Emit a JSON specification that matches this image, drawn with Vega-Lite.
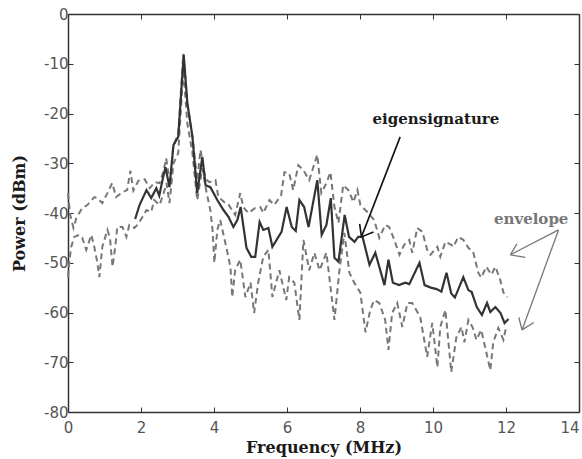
{
  "$schema": "https://vega.github.io/schema/vega-lite/v6.json",
  "width": 511,
  "height": 398,
  "autosize": {"type": "none"},
  "padding": {"left": 68, "top": 14, "right": 3, "bottom": 47},
  "background": "white",
  "config": {
    "view": {"stroke": null},
    "axis": {
      "domainColor": "#333333",
      "domainWidth": 1.5,
      "tickColor": "#333333",
      "tickWidth": 1,
      "tickSize": -5,
      "grid": false,
      "labelFont": "DejaVu Sans",
      "labelFontSize": 15,
      "labelColor": "#555555",
      "titleFont": "DejaVu Serif",
      "titleFontWeight": "bold",
      "titleFontSize": 16,
      "titleColor": "#1a1a1a"
    }
  },
  "datasets": {
    "series": [
      {"s":"eig","f":1.84,"p":-41.2},{"s":"eig","f":1.96,"p":-38.4},{"s":"eig","f":2.15,"p":-35.4},{"s":"eig","f":2.28,"p":-37},{"s":"eig","f":2.42,"p":-35},{"s":"eig","f":2.5,"p":-36.5},{"s":"eig","f":2.6,"p":-33},{"s":"eig","f":2.67,"p":-30.8},{"s":"eig","f":2.78,"p":-34.8},{"s":"eig","f":2.89,"p":-26.3},{"s":"eig","f":3.02,"p":-24.7},{"s":"eig","f":3.17,"p":-8.2},{"s":"eig","f":3.27,"p":-17.9},{"s":"eig","f":3.41,"p":-24.7},{"s":"eig","f":3.54,"p":-36},{"s":"eig","f":3.68,"p":-28.7},{"s":"eig","f":3.77,"p":-34.4},{"s":"eig","f":3.9,"p":-34.8},{"s":"eig","f":4.09,"p":-37.4},{"s":"eig","f":4.26,"p":-39.4},{"s":"eig","f":4.4,"p":-40.8},{"s":"eig","f":4.53,"p":-42.8},{"s":"eig","f":4.64,"p":-41.4},{"s":"eig","f":4.73,"p":-38.8},{"s":"eig","f":4.89,"p":-47},{"s":"eig","f":5.02,"p":-48.8},{"s":"eig","f":5.13,"p":-48.8},{"s":"eig","f":5.25,"p":-41.8},{"s":"eig","f":5.35,"p":-43.4},{"s":"eig","f":5.49,"p":-43},{"s":"eig","f":5.6,"p":-46.8},{"s":"eig","f":5.85,"p":-43.8},{"s":"eig","f":5.99,"p":-38.8},{"s":"eig","f":6.13,"p":-42.8},{"s":"eig","f":6.24,"p":-43.6},{"s":"eig","f":6.34,"p":-37.4},{"s":"eig","f":6.47,"p":-38.8},{"s":"eig","f":6.59,"p":-42.8},{"s":"eig","f":6.83,"p":-33.4},{"s":"eig","f":6.95,"p":-44.4},{"s":"eig","f":7.08,"p":-42.4},{"s":"eig","f":7.2,"p":-37},{"s":"eig","f":7.3,"p":-49},{"s":"eig","f":7.41,"p":-49.8},{"s":"eig","f":7.58,"p":-40.4},{"s":"eig","f":7.7,"p":-44.8},{"s":"eig","f":7.85,"p":-45.8},{"s":"eig","f":7.95,"p":-44.8},{"s":"eig","f":8.07,"p":-44.8},{"s":"eig","f":8.26,"p":-50.4},{"s":"eig","f":8.42,"p":-48},{"s":"eig","f":8.67,"p":-54.5},{"s":"eig","f":8.78,"p":-49.4},{"s":"eig","f":8.9,"p":-54},{"s":"eig","f":9.07,"p":-54.5},{"s":"eig","f":9.24,"p":-54},{"s":"eig","f":9.35,"p":-54.3},{"s":"eig","f":9.63,"p":-50},{"s":"eig","f":9.77,"p":-54.5},{"s":"eig","f":9.94,"p":-55},{"s":"eig","f":10.1,"p":-55.3},{"s":"eig","f":10.23,"p":-55.8},{"s":"eig","f":10.37,"p":-52},{"s":"eig","f":10.5,"p":-56.2},{"s":"eig","f":10.6,"p":-57},{"s":"eig","f":10.83,"p":-52.9},{"s":"eig","f":10.97,"p":-55.5},{"s":"eig","f":11.06,"p":-55.9},{"s":"eig","f":11.2,"p":-58.9},{"s":"eig","f":11.34,"p":-60.5},{"s":"eig","f":11.48,"p":-58.1},{"s":"eig","f":11.57,"p":-59.9},{"s":"eig","f":11.71,"p":-58.9},{"s":"eig","f":11.85,"p":-60.1},{"s":"eig","f":11.96,"p":-62.1},{"s":"eig","f":12.07,"p":-61.3},
      {"s":"upper","f":0,"p":-36},{"s":"upper","f":0.06,"p":-40.4},{"s":"upper","f":0.15,"p":-43},{"s":"upper","f":0.23,"p":-41},{"s":"upper","f":0.39,"p":-39},{"s":"upper","f":0.53,"p":-38.4},{"s":"upper","f":0.72,"p":-36.8},{"s":"upper","f":0.8,"p":-37},{"s":"upper","f":0.94,"p":-38},{"s":"upper","f":1.08,"p":-36},{"s":"upper","f":1.21,"p":-34},{"s":"upper","f":1.32,"p":-36.8},{"s":"upper","f":1.49,"p":-35.8},{"s":"upper","f":1.62,"p":-35.4},{"s":"upper","f":1.71,"p":-31.5},{"s":"upper","f":1.79,"p":-35.5},{"s":"upper","f":1.93,"p":-33.5},{"s":"upper","f":2.1,"p":-33.2},{"s":"upper","f":2.24,"p":-35},{"s":"upper","f":2.38,"p":-33.8},{"s":"upper","f":2.51,"p":-34},{"s":"upper","f":2.62,"p":-31.5},{"s":"upper","f":2.69,"p":-29},{"s":"upper","f":2.8,"p":-34.5},{"s":"upper","f":2.88,"p":-26.7},{"s":"upper","f":3.02,"p":-24},{"s":"upper","f":3.16,"p":-8},{"s":"upper","f":3.27,"p":-18},{"s":"upper","f":3.41,"p":-24.7},{"s":"upper","f":3.54,"p":-33.5},{"s":"upper","f":3.63,"p":-27.3},{"s":"upper","f":3.76,"p":-33},{"s":"upper","f":3.87,"p":-33.8},{"s":"upper","f":4.04,"p":-33.4},{"s":"upper","f":4.12,"p":-36.8},{"s":"upper","f":4.31,"p":-38},{"s":"upper","f":4.39,"p":-38.2},{"s":"upper","f":4.58,"p":-40.4},{"s":"upper","f":4.72,"p":-36},{"s":"upper","f":4.8,"p":-38.8},{"s":"upper","f":4.94,"p":-40},{"s":"upper","f":5.13,"p":-39},{"s":"upper","f":5.27,"p":-38.8},{"s":"upper","f":5.35,"p":-40},{"s":"upper","f":5.52,"p":-37.4},{"s":"upper","f":5.65,"p":-38.4},{"s":"upper","f":5.84,"p":-36.4},{"s":"upper","f":5.93,"p":-31.8},{"s":"upper","f":6.06,"p":-32},{"s":"upper","f":6.17,"p":-35.4},{"s":"upper","f":6.31,"p":-30.4},{"s":"upper","f":6.45,"p":-31.4},{"s":"upper","f":6.61,"p":-33.4},{"s":"upper","f":6.72,"p":-30.8},{"s":"upper","f":6.83,"p":-28.3},{"s":"upper","f":6.94,"p":-36},{"s":"upper","f":7.08,"p":-34},{"s":"upper","f":7.19,"p":-31.8},{"s":"upper","f":7.3,"p":-38.8},{"s":"upper","f":7.41,"p":-42},{"s":"upper","f":7.54,"p":-34.4},{"s":"upper","f":7.68,"p":-35.4},{"s":"upper","f":7.82,"p":-37.8},{"s":"upper","f":7.93,"p":-35.4},{"s":"upper","f":8.01,"p":-38.4},{"s":"upper","f":8.2,"p":-39.8},{"s":"upper","f":8.39,"p":-41.4},{"s":"upper","f":8.53,"p":-45},{"s":"upper","f":8.69,"p":-42.4},{"s":"upper","f":8.8,"p":-42.8},{"s":"upper","f":8.94,"p":-45.4},{"s":"upper","f":9.08,"p":-48.4},{"s":"upper","f":9.21,"p":-46.4},{"s":"upper","f":9.35,"p":-45.4},{"s":"upper","f":9.43,"p":-48},{"s":"upper","f":9.57,"p":-43},{"s":"upper","f":9.71,"p":-43.8},{"s":"upper","f":9.84,"p":-47.4},{"s":"upper","f":9.93,"p":-48.4},{"s":"upper","f":10.12,"p":-46.8},{"s":"upper","f":10.2,"p":-48.8},{"s":"upper","f":10.34,"p":-45.8},{"s":"upper","f":10.5,"p":-46.4},{"s":"upper","f":10.56,"p":-46.8},{"s":"upper","f":10.69,"p":-44.8},{"s":"upper","f":10.83,"p":-45.4},{"s":"upper","f":10.97,"p":-47},{"s":"upper","f":11.1,"p":-47.8},{"s":"upper","f":11.24,"p":-52},{"s":"upper","f":11.32,"p":-53},{"s":"upper","f":11.46,"p":-50.8},{"s":"upper","f":11.6,"p":-52.4},{"s":"upper","f":11.71,"p":-50.8},{"s":"upper","f":11.84,"p":-53.4},{"s":"upper","f":11.93,"p":-56},{"s":"upper","f":12.04,"p":-56.9},
      {"s":"lower","f":0,"p":-52.9},{"s":"lower","f":0.04,"p":-49.4},{"s":"lower","f":0.09,"p":-46.8},{"s":"lower","f":0.17,"p":-44.8},{"s":"lower","f":0.31,"p":-44.4},{"s":"lower","f":0.39,"p":-45},{"s":"lower","f":0.5,"p":-47.4},{"s":"lower","f":0.64,"p":-44.4},{"s":"lower","f":0.72,"p":-46.8},{"s":"lower","f":0.8,"p":-49.8},{"s":"lower","f":0.86,"p":-52.9},{"s":"lower","f":0.94,"p":-46.8},{"s":"lower","f":1.08,"p":-43.4},{"s":"lower","f":1.15,"p":-45},{"s":"lower","f":1.22,"p":-50.8},{"s":"lower","f":1.3,"p":-46.5},{"s":"lower","f":1.35,"p":-42.8},{"s":"lower","f":1.49,"p":-42.8},{"s":"lower","f":1.6,"p":-44.8},{"s":"lower","f":1.68,"p":-42.4},{"s":"lower","f":1.82,"p":-43},{"s":"lower","f":1.9,"p":-42.4},{"s":"lower","f":2.04,"p":-40.8},{"s":"lower","f":2.15,"p":-39.4},{"s":"lower","f":2.28,"p":-39.8},{"s":"lower","f":2.36,"p":-37.4},{"s":"lower","f":2.51,"p":-38.4},{"s":"lower","f":2.62,"p":-36},{"s":"lower","f":2.7,"p":-34},{"s":"lower","f":2.78,"p":-38},{"s":"lower","f":2.89,"p":-30},{"s":"lower","f":3.02,"p":-28},{"s":"lower","f":3.16,"p":-11},{"s":"lower","f":3.27,"p":-22},{"s":"lower","f":3.41,"p":-28},{"s":"lower","f":3.54,"p":-37.4},{"s":"lower","f":3.68,"p":-31},{"s":"lower","f":3.8,"p":-36},{"s":"lower","f":3.9,"p":-39.4},{"s":"lower","f":3.96,"p":-43.4},{"s":"lower","f":4.01,"p":-50},{"s":"lower","f":4.09,"p":-43.4},{"s":"lower","f":4.17,"p":-41.4},{"s":"lower","f":4.31,"p":-46},{"s":"lower","f":4.45,"p":-50.8},{"s":"lower","f":4.5,"p":-56.9},{"s":"lower","f":4.58,"p":-51.5},{"s":"lower","f":4.72,"p":-49.4},{"s":"lower","f":4.86,"p":-56.9},{"s":"lower","f":5.0,"p":-54},{"s":"lower","f":5.1,"p":-60.1},{"s":"lower","f":5.21,"p":-54},{"s":"lower","f":5.35,"p":-48.8},{"s":"lower","f":5.49,"p":-47.4},{"s":"lower","f":5.6,"p":-56.9},{"s":"lower","f":5.79,"p":-51.5},{"s":"lower","f":5.98,"p":-57.5},{"s":"lower","f":6.06,"p":-52.9},{"s":"lower","f":6.2,"p":-54},{"s":"lower","f":6.34,"p":-61.5},{"s":"lower","f":6.45,"p":-45.4},{"s":"lower","f":6.61,"p":-51.5},{"s":"lower","f":6.75,"p":-48},{"s":"lower","f":6.89,"p":-51.5},{"s":"lower","f":7.08,"p":-48},{"s":"lower","f":7.3,"p":-61.5},{"s":"lower","f":7.43,"p":-52},{"s":"lower","f":7.57,"p":-44},{"s":"lower","f":7.71,"p":-52},{"s":"lower","f":7.84,"p":-54},{"s":"lower","f":8.01,"p":-56},{"s":"lower","f":8.15,"p":-64},{"s":"lower","f":8.28,"p":-59.5},{"s":"lower","f":8.39,"p":-57.5},{"s":"lower","f":8.53,"p":-58.1},{"s":"lower","f":8.69,"p":-61.5},{"s":"lower","f":8.78,"p":-67.5},{"s":"lower","f":8.88,"p":-60.1},{"s":"lower","f":9.02,"p":-58.1},{"s":"lower","f":9.16,"p":-62.9},{"s":"lower","f":9.3,"p":-58.1},{"s":"lower","f":9.43,"p":-58.1},{"s":"lower","f":9.65,"p":-60.9},{"s":"lower","f":9.84,"p":-68.9},{"s":"lower","f":9.98,"p":-62.1},{"s":"lower","f":10.12,"p":-71},{"s":"lower","f":10.2,"p":-62.9},{"s":"lower","f":10.34,"p":-59.5},{"s":"lower","f":10.5,"p":-72},{"s":"lower","f":10.64,"p":-65},{"s":"lower","f":10.78,"p":-62.9},{"s":"lower","f":10.86,"p":-66},{"s":"lower","f":10.97,"p":-61.5},{"s":"lower","f":11.08,"p":-62.9},{"s":"lower","f":11.19,"p":-65.5},{"s":"lower","f":11.32,"p":-63.5},{"s":"lower","f":11.43,"p":-67},{"s":"lower","f":11.57,"p":-71.6},{"s":"lower","f":11.65,"p":-66},{"s":"lower","f":11.79,"p":-63.1},{"s":"lower","f":11.93,"p":-65.5},{"s":"lower","f":12.0,"p":-63}
    ],
    "arrows": [
      {"g":"eig","f":9.10,"p":-24.7,"f2":8.04,"p2":-44.8},
      {"g":"eig","f":8.04,"p":-44.8,"f2":7.99,"p2":-42.2},
      {"g":"eig","f":8.04,"p":-44.8,"f2":8.37,"p2":-43.8},
      {"g":"env","f":13.44,"p":-43.4,"f2":12.12,"p2":-48.4},
      {"g":"env","f":12.12,"p":-48.4,"f2":12.53,"p2":-48.9},
      {"g":"env","f":12.12,"p":-48.4,"f2":12.30,"p2":-46.2},
      {"g":"env","f":13.44,"p":-43.4,"f2":12.44,"p2":-63.5},
      {"g":"env","f":12.44,"p":-63.5,"f2":12.35,"p2":-61.0},
      {"g":"env","f":12.44,"p":-63.5,"f2":12.76,"p2":-62.0}
    ],
    "labels": [
      {"g":"eig","f":10.08,"p":-21.1,"t":"eigensignature"},
      {"g":"env","f":12.69,"p":-41.2,"t":"envelope"}
    ]
  },
  "layer": [
    {
      "data": {"name": "series"},
      "transform": [{"filter": "datum.s != 'eig'"}],
      "mark": {"type": "line", "color": "#777777", "strokeWidth": 2, "strokeDash": [6, 4]},
      "encoding": {
        "x": {
          "field": "f", "type": "quantitative",
          "scale": {"domain": [0, 14], "nice": false, "zero": false},
          "axis": {
            "orient": "bottom", "values": [0, 2, 4, 6, 8, 10, 12, 14],
            "title": "Frequency (MHz)", "labelPadding": 13, "titlePadding": 4,
            "labelFlush": false, "labelOverlap": false,
            "labelAlign": {"condition": {"test": "datum.value == 14", "value": "right"}, "value": "center"}
          }
        },
        "y": {
          "field": "p", "type": "quantitative",
          "scale": {"domain": [-80, 0], "nice": false, "zero": false},
          "axis": {
            "orient": "left", "values": [0, -10, -20, -30, -40, -50, -60, -70, -80],
            "title": "Power (dBm)", "labelPadding": 5, "titlePadding": 16,
            "labelFlush": false, "labelOverlap": false,
            "labelExpr": "'' + datum.value"
          }
        },
        "detail": {"field": "s"}
      }
    },
    {
      "data": {"name": "series"},
      "transform": [{"filter": "datum.s == 'eig'"}],
      "mark": {"type": "line", "color": "#333333", "strokeWidth": 2.2},
      "encoding": {
        "x": {"field": "f", "type": "quantitative", "axis": null},
        "y": {"field": "p", "type": "quantitative", "axis": null}
      }
    },
    {
      "data": {"name": "arrows"},
      "transform": [{"filter": "datum.g == 'eig'"}],
      "mark": {"type": "rule", "color": "#111111", "strokeWidth": 1.6},
      "encoding": {
        "x": {"field": "f", "type": "quantitative", "axis": null},
        "y": {"field": "p", "type": "quantitative", "axis": null},
        "x2": {"field": "f2"},
        "y2": {"field": "p2"}
      }
    },
    {
      "data": {"name": "arrows"},
      "transform": [{"filter": "datum.g == 'env'"}],
      "mark": {"type": "rule", "color": "#777777", "strokeWidth": 1.3},
      "encoding": {
        "x": {"field": "f", "type": "quantitative", "axis": null},
        "y": {"field": "p", "type": "quantitative", "axis": null},
        "x2": {"field": "f2"},
        "y2": {"field": "p2"}
      }
    },
    {
      "data": {"name": "labels"},
      "transform": [{"filter": "datum.g == 'eig'"}],
      "mark": {"type": "text", "font": "DejaVu Serif", "fontWeight": "bold", "fontSize": 15, "color": "#1a1a1a", "align": "center", "baseline": "middle"},
      "encoding": {
        "x": {"field": "f", "type": "quantitative", "axis": null},
        "y": {"field": "p", "type": "quantitative", "axis": null},
        "text": {"field": "t"}
      }
    },
    {
      "data": {"name": "labels"},
      "transform": [{"filter": "datum.g == 'env'"}],
      "mark": {"type": "text", "font": "DejaVu Serif", "fontWeight": "bold", "fontSize": 15, "color": "#777777", "align": "center", "baseline": "middle"},
      "encoding": {
        "x": {"field": "f", "type": "quantitative", "axis": null},
        "y": {"field": "p", "type": "quantitative", "axis": null},
        "text": {"field": "t"}
      }
    },
    {
      "data": {"name": "series"},
      "mark": {"type": "line", "opacity": 0},
      "encoding": {
        "x": {
          "field": "f", "type": "quantitative",
          "axis": {"orient": "top", "values": [0, 2, 4, 6, 8, 10, 12, 14], "labels": false, "title": null}
        },
        "y": {
          "field": "p", "type": "quantitative",
          "axis": {"orient": "right", "values": [0, -10, -20, -30, -40, -50, -60, -70, -80], "labels": false, "title": null}
        },
        "detail": {"field": "s"}
      }
    }
  ],
  "resolve": {"axis": {"x": "independent", "y": "independent"}}
}
